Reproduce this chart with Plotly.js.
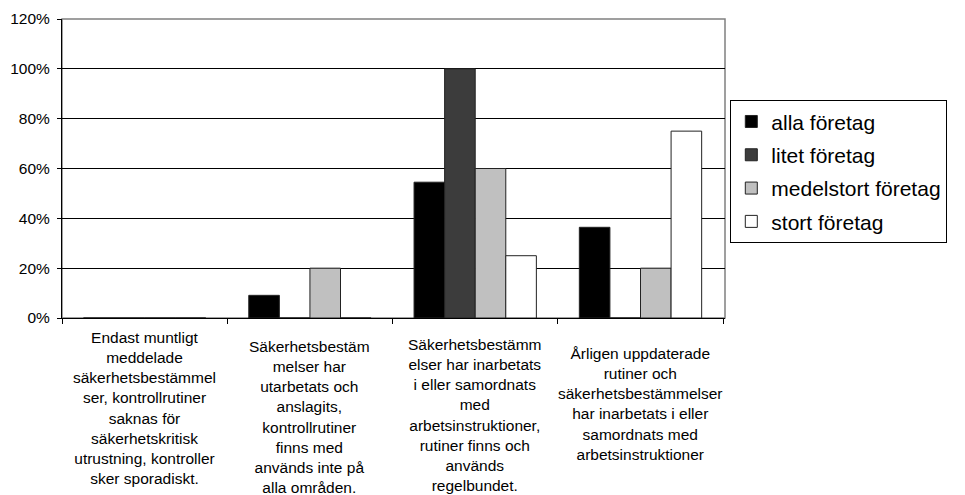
<!DOCTYPE html>
<html>
<head>
<meta charset="utf-8">
<script src="https://cdn.plot.ly/plotly-3.0.1.min.js"></script>
<style>html,body{margin:0;padding:0;background:#fff;}#chart{width:965px;height:495px;}</style>
</head>
<body>
<div id="chart"></div>
<script>
var categories = [
  'Endast muntligt<br>meddelade<br>säkerhetsbestämmel<br>ser, kontrollrutiner<br>saknas för<br>säkerhetskritisk<br>utrustning, kontroller<br>sker sporadiskt.',
  'Säkerhetsbestäm<br>melser har<br>utarbetats och<br>anslagits,<br>kontrollrutiner<br>finns med<br>används inte på<br>alla områden.',
  'Säkerhetsbestämm<br>elser har inarbetats<br>i eller samordnats<br>med<br>arbetsinstruktioner,<br>rutiner finns och<br>används<br>regelbundet.',
  'Årligen uppdaterade<br>rutiner och<br>säkerhetsbestämmelser<br>har inarbetats i eller<br>samordnats med<br>arbetsinstruktioner'
];
var seriesNames = ['alla företag', 'litet företag', 'medelstort företag', 'stort företag'];
var allaForetag = [0, 0.091, 0.545, 0.364];
var litetForetag = [0, 0, 1.0, 0];
var medelstortForetag = [0, 0.2, 0.6, 0.2];
var stortForetag = [0, 0, 0.25, 0.75];
var yTickVals = [0, 0.2, 0.4, 0.6, 0.8, 1.0, 1.2];

var seriesValues = [allaForetag, litetForetag, medelstortForetag, stortForetag];
var seriesColors = ['#000000', '#3c3c3c', '#c0c0c0', '#ffffff'];
var labelShift = [-9, -18, -16, -25];
var FONT = 'Liberation Sans, Arial, Helvetica, sans-serif';

var traces = seriesValues.map(function (vals, i) {
  return {
    type: 'bar',
    name: seriesNames[i],
    legendgroup: 'g' + i,
    x: categories,
    y: vals,
    marker: {color: seriesColors[i], line: {color: '#222222', width: 1}},
    hoverinfo: 'x+y'
  };
});

var annotations = categories.map(function (c, i) {
  return {
    x: c, xref: 'x', y: 0, yref: 'y',
    yanchor: 'top', xanchor: 'center', yshift: labelShift[i],
    text: c, showarrow: false, align: 'center',
    font: {family: FONT, size: 15.5, color: '#000'}
  };
});

var layout = {
  width: 965, height: 495,
  margin: {l: 62, r: 240, t: 19, b: 177, pad: 0},
  paper_bgcolor: '#fff', plot_bgcolor: '#fff',
  barmode: 'group', bargap: 0.26, bargroupgap: 0,
  font: {family: FONT, size: 15.5, color: '#000'},
  xaxis: {
    type: 'category', showticklabels: false, tickson: 'boundaries',
    ticks: 'outside', ticklen: 5, tickcolor: '#000', tickwidth: 1,
    showline: true, linecolor: '#000', linewidth: 1, showgrid: false, zeroline: false,
    fixedrange: true
  },
  yaxis: {
    range: [0, 1.2], tickvals: yTickVals, tickformat: '.0%',
    ticks: 'outside', ticklen: 4, tickcolor: '#000', tickwidth: 1,
    ticklabelstandoff: 4,
    showline: true, linecolor: '#000', linewidth: 1,
    showgrid: true, gridcolor: '#000', gridwidth: 1, zeroline: false,
    tickfont: {family: FONT, size: 15.5, color: '#000'},
    fixedrange: true
  },
  shapes: [{
    type: 'rect', xref: 'paper', yref: 'paper', x0: 0, x1: 1, y0: 0, y1: 1,
    line: {color: '#808080', width: 1.5}, layer: 'below'
  }],
  legend: {
    x: 1.008, xanchor: 'left', y: 0.728, yanchor: 'top',
    bordercolor: '#000', borderwidth: 1, bgcolor: '#fff',
    font: {family: FONT, size: 21, color: '#000'},
    traceorder: 'grouped', tracegroupgap: 3, itemwidth: 30
  },
  annotations: annotations,
  showlegend: true
};

Plotly.newPlot('chart', traces, layout, {displayModeBar: false, staticPlot: true});
</script>
</body>
</html>
